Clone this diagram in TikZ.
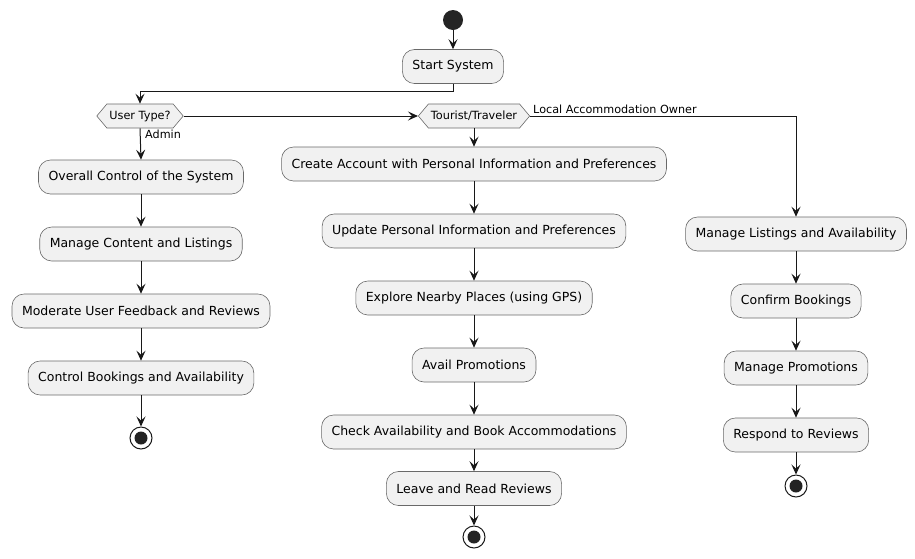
\documentclass[tikz,border=0pt]{standalone}
\usepackage{fontspec}
\setmainfont{DejaVu Sans}
\usetikzlibrary{arrows.meta,shapes.symbols}
\definecolor{actfill}{HTML}{F1F1F1}
\definecolor{actline}{HTML}{181818}
\tikzset{
  act/.style={draw=actline!65, fill=actfill, rounded corners=12pt, minimum height=34pt,
    inner xsep=10pt, line width=0.6pt, font=\fontsize{12.5}{15}\selectfont},
  hexa/.style={signal, signal to=west and east, signal pointer angle=100, draw=actline!65,
    fill=actfill, minimum height=24pt, inner xsep=2.5pt, inner ysep=3pt, line width=0.6pt,
    font=\fontsize{11.3}{13}\selectfont},
  startdot/.style={circle, fill=actline!95, minimum size=20pt, inner sep=0pt},
  stopdot/.style={circle, draw=actline, line width=1pt, minimum size=22pt, inner sep=0pt,
    path picture={\fill[actline!95] (path picture bounding box.center) circle (6.5pt);}},
  flow/.style={-{Stealth[length=10pt,width=9pt,inset=4pt]}, line width=1pt, draw=actline},
  lbl/.style={font=\fontsize{11.2}{13}\selectfont, inner sep=1pt},
}
\begin{document}
\begin{tikzpicture}[x=1pt,y=-1pt]
  \useasboundingbox (0,0) rectangle (915,558);
  % start
  \node[startdot] (start) at (453,20) {};
  \node[act] (sys) at (453,66.5) {Start System};
  \node[hexa] (utype) at (140,116) {User Type?};
  \node[hexa] (tour) at (474,116) {Tourist/Traveler};
  % admin
  \node[act] (adm1) at (141,177) {Overall Control of the System};
  \node[act] (adm2) at (141,244) {Manage Content and Listings};
  \node[act] (adm3) at (141,311) {Moderate User Feedback and Reviews};
  \node[act] (adm4) at (141,378) {Control Bookings and Availability};
  \node[stopdot] (stopA) at (141,438) {};
  % tourist
  \node[act] (tr1) at (474,164) {Create Account with Personal Information and Preferences};
  \node[act] (tr2) at (474,231) {Update Personal Information and Preferences};
  \node[act] (tr3) at (474,298) {Explore Nearby Places (using GPS)};
  \node[act] (tr4) at (474,365) {Avail Promotions};
  \node[act] (tr5) at (474,432) {Check Availability and Book Accommodations};
  \node[act] (tr6) at (474,488.5) {Leave and Read Reviews};
  \node[stopdot] (stopT) at (474,537) {};
  % owner
  \node[act] (own1) at (796,234) {Manage Listings and Availability};
  \node[act] (own2) at (796,301) {Confirm Bookings};
  \node[act] (own3) at (796,368) {Manage Promotions};
  \node[act] (own4) at (796,435) {Respond to Reviews};
  \node[stopdot] (stopO) at (796,486) {};
  % labels
  \node[lbl, anchor=west] (admin) at (144,134) {Admin};
  \node[lbl, anchor=south west] (owner) at (532,115) {Local Accommodation Owner};
  % connectors
  \draw[flow] (start) -- (sys);
  \draw[flow] (sys.south) -- ++(0,8) -| (utype.north);
  \draw[flow] (utype.east) -- (tour.west);
  \draw[flow] (tour.east) -| (own1.north);
  \draw[flow] (utype.south) -- (adm1.north);
  \draw[flow] (tour.south) -- (tr1.north);
  \foreach \a/\b in {adm1/adm2,adm2/adm3,adm3/adm4,adm4/stopA,
    tr1/tr2,tr2/tr3,tr3/tr4,tr4/tr5,tr5/tr6,tr6/stopT,
    own1/own2,own2/own3,own3/own4,own4/stopO}
    \draw[flow] (\a) -- (\b);
\end{tikzpicture}
\end{document}
